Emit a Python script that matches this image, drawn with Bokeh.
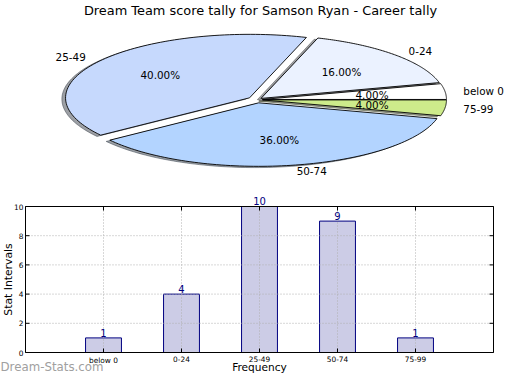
import numpy as np
from bokeh.plotting import figure
from bokeh.models import Range1d
from bokeh.layouts import column
from bokeh.embed import file_html
from bokeh.resources import INLINE
from bokeh.core.properties import value

# ---------------- data ----------------
title_text = "Dream Team score tally for Samson Ryan - Career tally"
categories = ["below 0", "0-24", "25-49", "50-74", "75-99"]
counts = [1, 4, 10, 9, 1]
explode = [0.03, 0.03, 0.05, 0.05, 0.03]
y_ticks = [0, 2, 4, 6, 8, 10]
y_label = "Stat Intervals"
x_label = "Frequency"
watermark = "Dream-Stats.com"

# ---------------- styles ----------------
FONT = "DejaVu Sans"
pie_colors = ["#ffffff", "#ebf2ff", "#c6d9fd", "#b3d4ff", "#cdeb8b"]
bar_fill = "#cccce6"
bar_edge = "#000080"
W = 504
PIE_H = 182
BAR_H = 192

# ================= pie =================
fr = np.array(counts, dtype=float) / sum(counts)
ends = np.cumsum(fr) * 2 * np.pi
starts = ends - fr * 2 * np.pi
mids = (starts + ends) / 2

# pixel layout of the pie: centre and radii
PCX, PCY, PRX, PRY = 256.5, 99.2, 184.0, 63.5


def shade(hexcol):
    h = hexcol.lstrip("#")
    r, g, b = (int(h[i:i + 2], 16) for i in (0, 2, 4))
    return "#%02x%02x%02x" % (int(r * 0.3), int(g * 0.3), int(b * 0.3))


wx, wy, shx, shy = [], [], [], []
for i in range(len(counts)):
    t = np.linspace(starts[i], ends[i], 90)
    ox = explode[i] * np.cos(mids[i])
    oy = explode[i] * np.sin(mids[i])
    xs = np.concatenate([[ox], ox + np.cos(t), [ox]])
    ys = np.concatenate([[oy], oy + np.sin(t), [oy]])
    wx.append(list(xs))
    wy.append(list(ys))
    shx.append(list(xs - 0.02))
    shy.append(list(ys - 0.02))

pie = figure(width=W, height=PIE_H,
             x_range=Range1d(-PCX / PRX, (W - PCX) / PRX),
             y_range=Range1d(-(PIE_H - PCY) / PRY, PCY / PRY),
             output_backend="svg", toolbar_location=None, min_border=0,
             x_axis_location=None, y_axis_location=None)
pie.grid.visible = False
pie.outline_line_color = None

shadow_cols = [shade(c) for c in pie_colors]
pie.patches(shx, shy, fill_color=shadow_cols, fill_alpha=0.5,
            line_color=shadow_cols, line_alpha=0.5, line_width=1)
pie.patches(wx, wy, fill_color=pie_colors, line_color="black", line_width=0.9)

pct_x = [(0.6 + explode[i]) * np.cos(mids[i]) for i in range(len(counts))]
pct_y = [(0.6 + explode[i]) * np.sin(mids[i]) for i in range(len(counts))]
pct_t = ["%.2f%%" % (f * 100) for f in fr]
pie.text(pct_x, pct_y, text=pct_t, text_align="center", text_baseline="middle",
         text_font=value(FONT), text_font_size="10.4px", text_color="black")

lx_r, ly_r, lt_r, lx_l, ly_l, lt_l = [], [], [], [], [], []
for i in range(len(counts)):
    x = (1.1 + explode[i]) * np.cos(mids[i])
    y = (1.1 + explode[i]) * np.sin(mids[i])
    if x > 0:
        lx_l.append(x); ly_l.append(y); lt_l.append(categories[i])
    else:
        lx_r.append(x); ly_r.append(y); lt_r.append(categories[i])
pie.text(lx_l, ly_l, text=lt_l, text_align="left", text_baseline="middle",
         text_font=value(FONT), text_font_size="10.4px", text_color="black")
pie.text(lx_r, ly_r, text=lt_r, text_align="right", text_baseline="middle",
         text_font=value(FONT), text_font_size="10.4px", text_color="black")

# title (centre x=260px, middle y~10.4px)
pie.text([(260 - PCX) / PRX], [(PCY - 10.4) / PRY], text=[title_text],
         text_align="center", text_baseline="middle",
         text_font=value(FONT), text_font_size="12.9px", text_color="black")

# ================= bars =================
n = len(categories)
xpos = list(range(1, n + 1))
x_lo, x_hi = 0, n + 1
y_lo, y_hi = y_ticks[0], y_ticks[-1]

# pixel layout (inside the bar figure): plot box edges
BL, BR = 25.0, 493.0          # left/right of box
BT, BB = 24.0, 170.0          # top/bottom of box
kx = (BR - BL) / (x_hi - x_lo)   # px per x unit
ky = (BB - BT) / (y_hi - y_lo)   # px per y unit

bar = figure(width=W, height=BAR_H,
             x_range=Range1d(x_lo - BL / kx, x_hi + (W - BR) / kx),
             y_range=Range1d(y_lo - (BAR_H - BB) / ky, y_hi + BT / ky),
             output_backend="svg", toolbar_location=None, min_border=0,
             x_axis_location=None, y_axis_location=None)
bar.grid.visible = False
bar.outline_line_color = None

bar.vbar(x=xpos, top=counts, bottom=y_lo, width=0.46, fill_color=bar_fill,
         line_color=bar_edge, line_width=1)

# dotted grid
bar.segment(x0=xpos, y0=[y_lo] * n, x1=xpos, y1=[y_hi] * n,
            line_color="#b0b0b0", line_dash="1 2", line_width=1)
bar.segment(x0=[x_lo] * len(y_ticks), y0=y_ticks, x1=[x_hi] * len(y_ticks), y1=y_ticks,
            line_color="#b0b0b0", line_dash="1 2", line_width=1)

# inward ticks on all four sides
tl = 4.0
bar.segment(x0=[x_lo] * len(y_ticks), y0=y_ticks, x1=[x_lo + tl / kx] * len(y_ticks), y1=y_ticks,
            line_color="black", line_width=1)
bar.segment(x0=[x_hi] * len(y_ticks), y0=y_ticks, x1=[x_hi - tl / kx] * len(y_ticks), y1=y_ticks,
            line_color="black", line_width=1)
bar.segment(x0=xpos, y0=[y_lo] * n, x1=xpos, y1=[y_lo + tl / ky] * n,
            line_color="black", line_width=1)
bar.segment(x0=xpos, y0=[y_hi] * n, x1=xpos, y1=[y_hi - tl / ky] * n,
            line_color="black", line_width=1)

# box
bar.quad(left=[x_lo], right=[x_hi], bottom=[y_lo], top=[y_hi],
         fill_color=None, line_color="black", line_width=1)

# tick labels
bar.text([x_lo - 2 / kx] * len(y_ticks), y_ticks, text=[str(t) for t in y_ticks],
         text_align="right", text_baseline="middle",
         text_font=value(FONT), text_font_size="7.4px", text_color="black")
bar.text(xpos, [y_lo - 3 / ky] * n, text=categories,
         text_align="center", text_baseline="top",
         text_font=value(FONT), text_font_size="7.4px", text_color="black")

# value labels on bars (baseline just above bar top)
bar.text(xpos, [c + 5.2 / ky for c in counts], text=[str(c) for c in counts],
         text_align="center", text_baseline="middle",
         text_font=value(FONT), text_font_size="10px", text_color=bar_edge)

# axis titles and watermark
x_left_edge = x_lo - BL / kx
bar.text([x_left_edge + 1 / kx], [(y_lo + y_hi) / 2], text=[y_label], angle=np.pi / 2,
         text_align="center", text_baseline="top",
         text_font=value(FONT), text_font_size="10.8px", text_color="black")
bar.text([(x_lo + x_hi) / 2], [y_lo - 14.8 / ky], text=[x_label],
         text_align="center", text_baseline="middle",
         text_font=value(FONT), text_font_size="10.6px", text_color="black")
bar.text([x_left_edge], [y_lo - 14.6 / ky], text=[watermark],
         text_align="left", text_baseline="middle",
         text_font=value(FONT), text_font_size="11.8px", text_color="#a0a0a0")

layout = column(pie, bar, spacing=0)
open("out.html", "w").write(file_html(layout, INLINE))
